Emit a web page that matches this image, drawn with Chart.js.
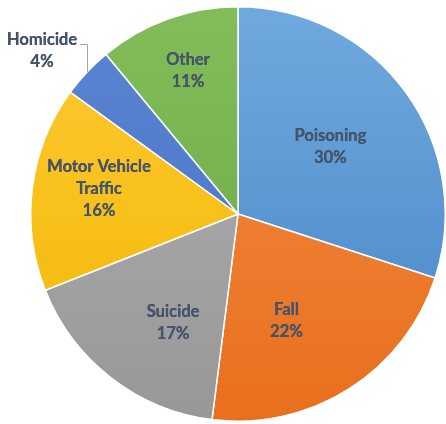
<!DOCTYPE html>
<html>
<head>
<meta charset="utf-8">
<script src="https://cdn.jsdelivr.net/npm/chart.js@4"></script>
<style>
  html, body { margin: 0; padding: 0; background: #fff; }
  #wrap { width: 446px; height: 424px; position: relative; }
</style>
</head>
<body>
<div id="wrap"><canvas id="pieChart"></canvas></div>
<script>
const categories = ['Poisoning', 'Fall', 'Suicide', 'Motor Vehicle\nTraffic', 'Homicide', 'Other'];
const shares = [30, 22, 17, 16, 4, 11];

// light (top) -> dark (bottom) per slice
const sliceColors = [
    ['#70a9de', '#4584c5'],
    ['#f38d48', '#e86f1c'],
    ['#b2b2b2', '#979797'],
    ['#ffca35', '#f1b700'],
    ['#5d86d3', '#4270c2'],
    ['#82bd5a', '#68a63e']
];
// label placement: fraction of radius, angle shift in degrees
const labelSpots = [
    { f: 0.55, a: 0 },
    { f: 0.565, a: 8 },
    { f: 0.613, a: -7 },
    { f: 0.682, a: 3 },
    { f: 1.23, a: -3.5, leader: true },
    { f: 0.732, a: 0.5 }
];

const labelFont = 'bold 16.5px Lato';
const labelColor = '#44546a';

const sliceLabels = {
    id: 'sliceLabels',
    afterDatasetsDraw(chart) {
        const ctx = chart.ctx;
        const arcs = chart.getDatasetMeta(0).data;
        ctx.save();
        ctx.font = labelFont;
        ctx.fillStyle = labelColor;
        ctx.textAlign = 'center';
        ctx.textBaseline = 'middle';
        arcs.forEach((arc, i) => {
            const spot = labelSpots[i];
            const mid = (arc.startAngle + arc.endAngle) / 2;
            const ang = mid + spot.a * Math.PI / 180;
            const r = arc.outerRadius * spot.f;
            const x = arc.x + Math.cos(ang) * r;
            const y = arc.y + Math.sin(ang) * r;
            const lines = categories[i].split('\n').concat(shares[i] + '%');
            const lh = 22;
            const top = y - (lines.length - 1) * lh / 2;
            lines.forEach((t, k) => {
                ctx.fillText(t, x, top + k * lh);
                ctx.fillText(t, x + 0.3, top + k * lh);
            });
            if (spot.leader) {
                const ex = arc.x + Math.cos(mid) * arc.outerRadius;
                const ey = arc.y + Math.sin(mid) * arc.outerRadius;
                const w = ctx.measureText(lines[0]).width;
                const ly = top + 4;
                ctx.strokeStyle = '#a6a6a6';
                ctx.lineWidth = 1;
                ctx.beginPath();
                ctx.moveTo(Math.round(ex) + 0.5, ey);
                ctx.lineTo(Math.round(ex) + 0.5, Math.round(ly) + 0.5);
                ctx.lineTo(x + w / 2 + 3, Math.round(ly) + 0.5);
                ctx.stroke();
            }
        });
        ctx.restore();
    }
};

new Chart(document.getElementById('pieChart'), {
    type: 'pie',
    data: {
        labels: categories,
        datasets: [{
            data: shares,
            backgroundColor(c) {
                const area = c.chart.chartArea;
                if (!area) return sliceColors[c.dataIndex][0];
                const g = c.chart.ctx.createLinearGradient(0, area.top, 0, area.bottom);
                g.addColorStop(0, sliceColors[c.dataIndex][0]);
                g.addColorStop(1, sliceColors[c.dataIndex][1]);
                return g;
            },
            borderColor: '#ffffff',
            borderWidth: 1.5
        }]
    },
    options: {
        responsive: true,
        maintainAspectRatio: false,
        animation: false,
        layout: { padding: { left: 30, right: 0, top: 4, bottom: 0 } },
        plugins: { legend: { display: false }, tooltip: { enabled: false } }
    },
    plugins: [sliceLabels]
});
</script>
</body>
</html>
